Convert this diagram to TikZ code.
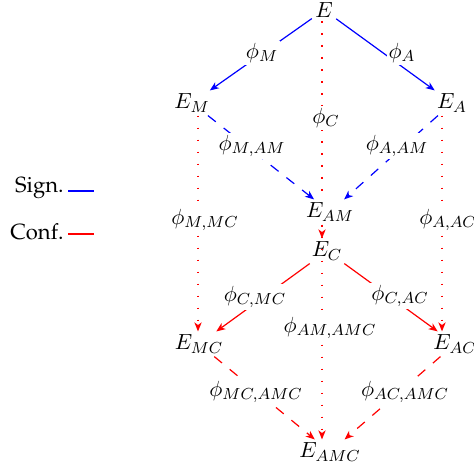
\documentclass[tikz,border=0pt]{standalone}
\usepackage[T1]{fontenc}
\renewcommand{\rmdefault}{ppl}
\usetikzlibrary{arrows.meta}
\tikzset{
  x=0.5pt, y=-0.5pt,
  every node/.style={font=\fontsize{11pt}{13pt}\selectfont},
  >={Stealth[length=4.5pt,width=3.6pt,inset=1.3pt]},
  ent/.style={inner sep=1.5pt},
  entw/.style={ent, fill=white},
  lab/.style={fill=white, inner sep=1pt},
  conn/.style={line width=0.6pt},
  sig/.style={conn, blue},
  conf/.style={conn, red},
  dsh/.style={dash pattern=on 5pt off 5pt},
  dts/.style={line width=0.85pt, dash pattern=on 0.85pt off 5.15pt},
}
\begin{document}
\begin{tikzpicture}
\useasboundingbox (0,0) rectangle (474,470);
% columns of the vertical connectors
\coordinate (colL) at (198,0);
\coordinate (colC) at (322,0);
\coordinate (colR) at (442,0);
% entity nodes
\node[ent] (E) at (324,10) {$E$};
\node[ent] (EM) at (192,103) {$E_M$};
\node[ent] (EA) at (452,103) {$E_A$};
\node[ent] (EAM) at (330,212) {$E_{AM}$};
\node[ent] (EC) at (327,251) {$E_C$};
\node[ent] (EMC) at (199,344) {$E_{MC}$};
\node[ent] (EAC) at (455,344) {$E_{AC}$};
\node[ent] (EAMC) at (330,452) {$E_{AMC}$};
% connectors
\draw[sig,->] (E) -- (EM);
\draw[sig,->] (E) -- (EA);
\draw[conf,dts,->] (E.south -| colC) -- (EC.north -| colC);
\draw[sig,dsh,->] (EM) -- (EAM);
\draw[sig,dsh,->] (EA) -- (EAM);
\draw[conf,dts,->] (EM.south -| colL) -- (EMC.north -| colL);
\draw[conf,dts,->] (EA.south -| colR) -- (EAC.north -| colR);
\draw[conf,->] (EC) -- (EMC);
\draw[conf,->] (EC) -- (EAC);
\draw[conf,dts,->] (EAM.south -| colC) -- (EAMC.north -| colC);
\draw[conf,dsh,->] (EMC) -- (EAMC);
\draw[conf,dsh,->] (EAC) -- (EAMC);
% redraw E_AM on top of the line that passes behind it
\node[entw] at (EAM) {$E_{AM}$};
% labels
\node[lab] (lM) at (262,53) {$\phi_M$};
\node[lab] (lA) at (402,53) {$\phi_A$};
\node[lab] (lC) at (326,118) {$\phi_C$};
\node[lab] (lMAM) at (252,146) {$\phi_{M,AM}$};
\node[lab] (lAAM) at (397,146) {$\phi_{A,AM}$};
\node[lab] (lMMC) at (205,220) {$\phi_{M,MC}$};
\node[lab] (lAAC) at (448,220) {$\phi_{A,AC}$};
\node[lab] (lCMC) at (255,297) {$\phi_{C,MC}$};
\node[lab] (lCAC) at (400,296) {$\phi_{C,AC}$};
\node[lab] (lAMAMC) at (330,328) {$\phi_{AM,AMC}$};
\node[lab] (lMCAMC) at (256,392) {$\phi_{MC,AMC}$};
\node[lab] (lACAMC) at (405,392) {$\phi_{AC,AMC}$};
% legend
\node[anchor=east, inner sep=0pt] (sign) at (64,188) {Sign.};
\coordinate (s1) at (68,191);
\coordinate (s2) at (94,191);
\draw[sig] (s1) -- (s2);
\node[anchor=east, inner sep=0pt] (conf) at (64,232) {Conf.};
\coordinate (c1) at (68,234);
\coordinate (c2) at (94,234);
\draw[conf] (c1) -- (c2);
\end{tikzpicture}
\end{document}
